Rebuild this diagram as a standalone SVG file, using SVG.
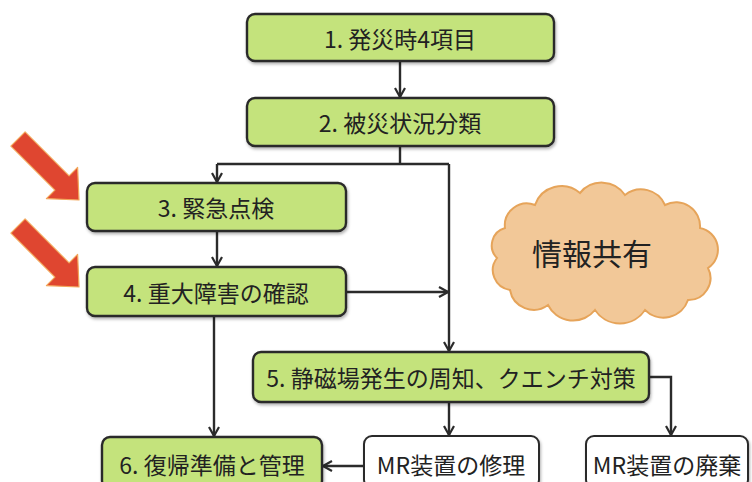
<svg xmlns="http://www.w3.org/2000/svg" width="752" height="482" viewBox="0 0 752 482">
<style>
.g{fill:#C4E37C;stroke:#2b2b2b;stroke-width:2.4}
.w{fill:#ffffff;stroke:#2b2b2b;stroke-width:2}
.t{font-family:"Noto Sans CJK JP","Noto Sans",sans-serif;font-size:23px;fill:#222;text-anchor:middle;dominant-baseline:central}
.c{fill:none;stroke:#2b2b2b;stroke-width:2.4}
.ca{fill:none;stroke:#2b2b2b;stroke-width:2.4;marker-end:url(#ah)}
.red{fill:#DF4630;stroke:#F2A65A;stroke-width:1.2;stroke-linejoin:round}
</style>
<defs>
<marker id="ah" viewBox="0 0 12 12" refX="10.5" refY="6" markerWidth="12" markerHeight="12" markerUnits="userSpaceOnUse" orient="auto">
<path d="M1.5,1 L10.5,6 L1.5,11" fill="none" stroke="#2b2b2b" stroke-width="2.2"/>
</marker>
<filter id="sh" x="-10%" y="-20%" width="120%" height="150%">
<feDropShadow dx="1" dy="2" stdDeviation="1.5" flood-color="#000" flood-opacity="0.3"/>
</filter>
</defs>
<rect width="752" height="482" fill="#ffffff"/>

<g id="arrows-red">
<path class="red" d="M25.1,131.9 L69.1,175.9 L77.6,167.4 L79,200 L46.4,198.6 L54.9,190.1 L10.9,146.1 Z"/>
<path class="red" d="M25.1,218.9 L69.1,262.9 L77.6,254.4 L79,287 L46.4,285.6 L54.9,277.1 L10.9,233.1 Z"/>
</g>

<g id="connectors">
<line class="ca" x1="400" y1="62" x2="400" y2="97"/>
<polyline class="c" points="400,146 400,164"/>
<polyline class="c" points="217,164 449,164"/>
<line class="ca" x1="217" y1="164" x2="217" y2="182"/>
<line class="ca" x1="449" y1="164" x2="449" y2="351"/>
<line class="ca" x1="217" y1="231" x2="217" y2="266"/>
<line class="ca" x1="346" y1="292" x2="448" y2="292"/>
<line class="ca" x1="214" y1="316" x2="214" y2="436"/>
<line class="ca" x1="449" y1="402" x2="449" y2="435"/>
<polyline class="ca" points="649,377 671,377 671,435"/>
<line class="ca" x1="364" y1="466" x2="323" y2="466"/>
</g>

<g id="n1"><rect class="g" filter="url(#sh)" x="247" y="14" width="307" height="47" rx="8"/><text class="t" x="400" y="38">1. 発災時4項目</text></g>
<g id="n2"><rect class="g" filter="url(#sh)" x="247" y="98" width="307" height="48" rx="8"/><text class="t" x="400" y="122">2. 被災状況分類</text></g>
<g id="n3"><rect class="g" filter="url(#sh)" x="87" y="183" width="259" height="48" rx="8"/><text class="t" x="216" y="207">3. 緊急点検</text></g>
<g id="n4"><rect class="g" filter="url(#sh)" x="87" y="267" width="259" height="49" rx="8"/><text class="t" x="216" y="292">4. 重大障害の確認</text></g>
<g id="n5"><rect class="g" filter="url(#sh)" x="253" y="352" width="396" height="50" rx="8"/><text class="t" x="451" y="377">5. 静磁場発生の周知、クエンチ対策</text></g>
<g id="n6"><rect class="g" filter="url(#sh)" x="102" y="437" width="220" height="52" rx="8"/><text class="t" x="212" y="464">6. 復帰準備と管理</text></g>
<g id="n7"><rect class="w" filter="url(#sh)" x="364" y="436" width="175" height="52" rx="8"/><text class="t" x="451" y="464">MR装置の修理</text></g>
<g id="n8"><rect class="w" filter="url(#sh)" x="586" y="436" width="162" height="52" rx="8"/><text class="t" x="667" y="464">MR装置の廃棄</text></g>

<g id="cloud">
<path d="M505,228 A22,22 0 0 1 535,205 A28,28 0 0 1 580,193 A28,28 0 0 1 625,195 A26,26 0 0 1 665,205 A24,24 0 0 1 700,228 A22,22 0 0 1 708,268 A22,22 0 0 1 688,300 A26,26 0 0 1 645,310 A30,30 0 0 1 595,310 A28,28 0 0 1 548,305 A24,24 0 0 1 510,290 A20,20 0 0 1 497,258 A18,18 0 0 1 505,228 Z" fill="#F2C898" stroke="#E6A45A" stroke-width="2"/>
<text class="t" x="592" y="252" style="font-size:30px">情報共有</text>
</g>
</svg>
